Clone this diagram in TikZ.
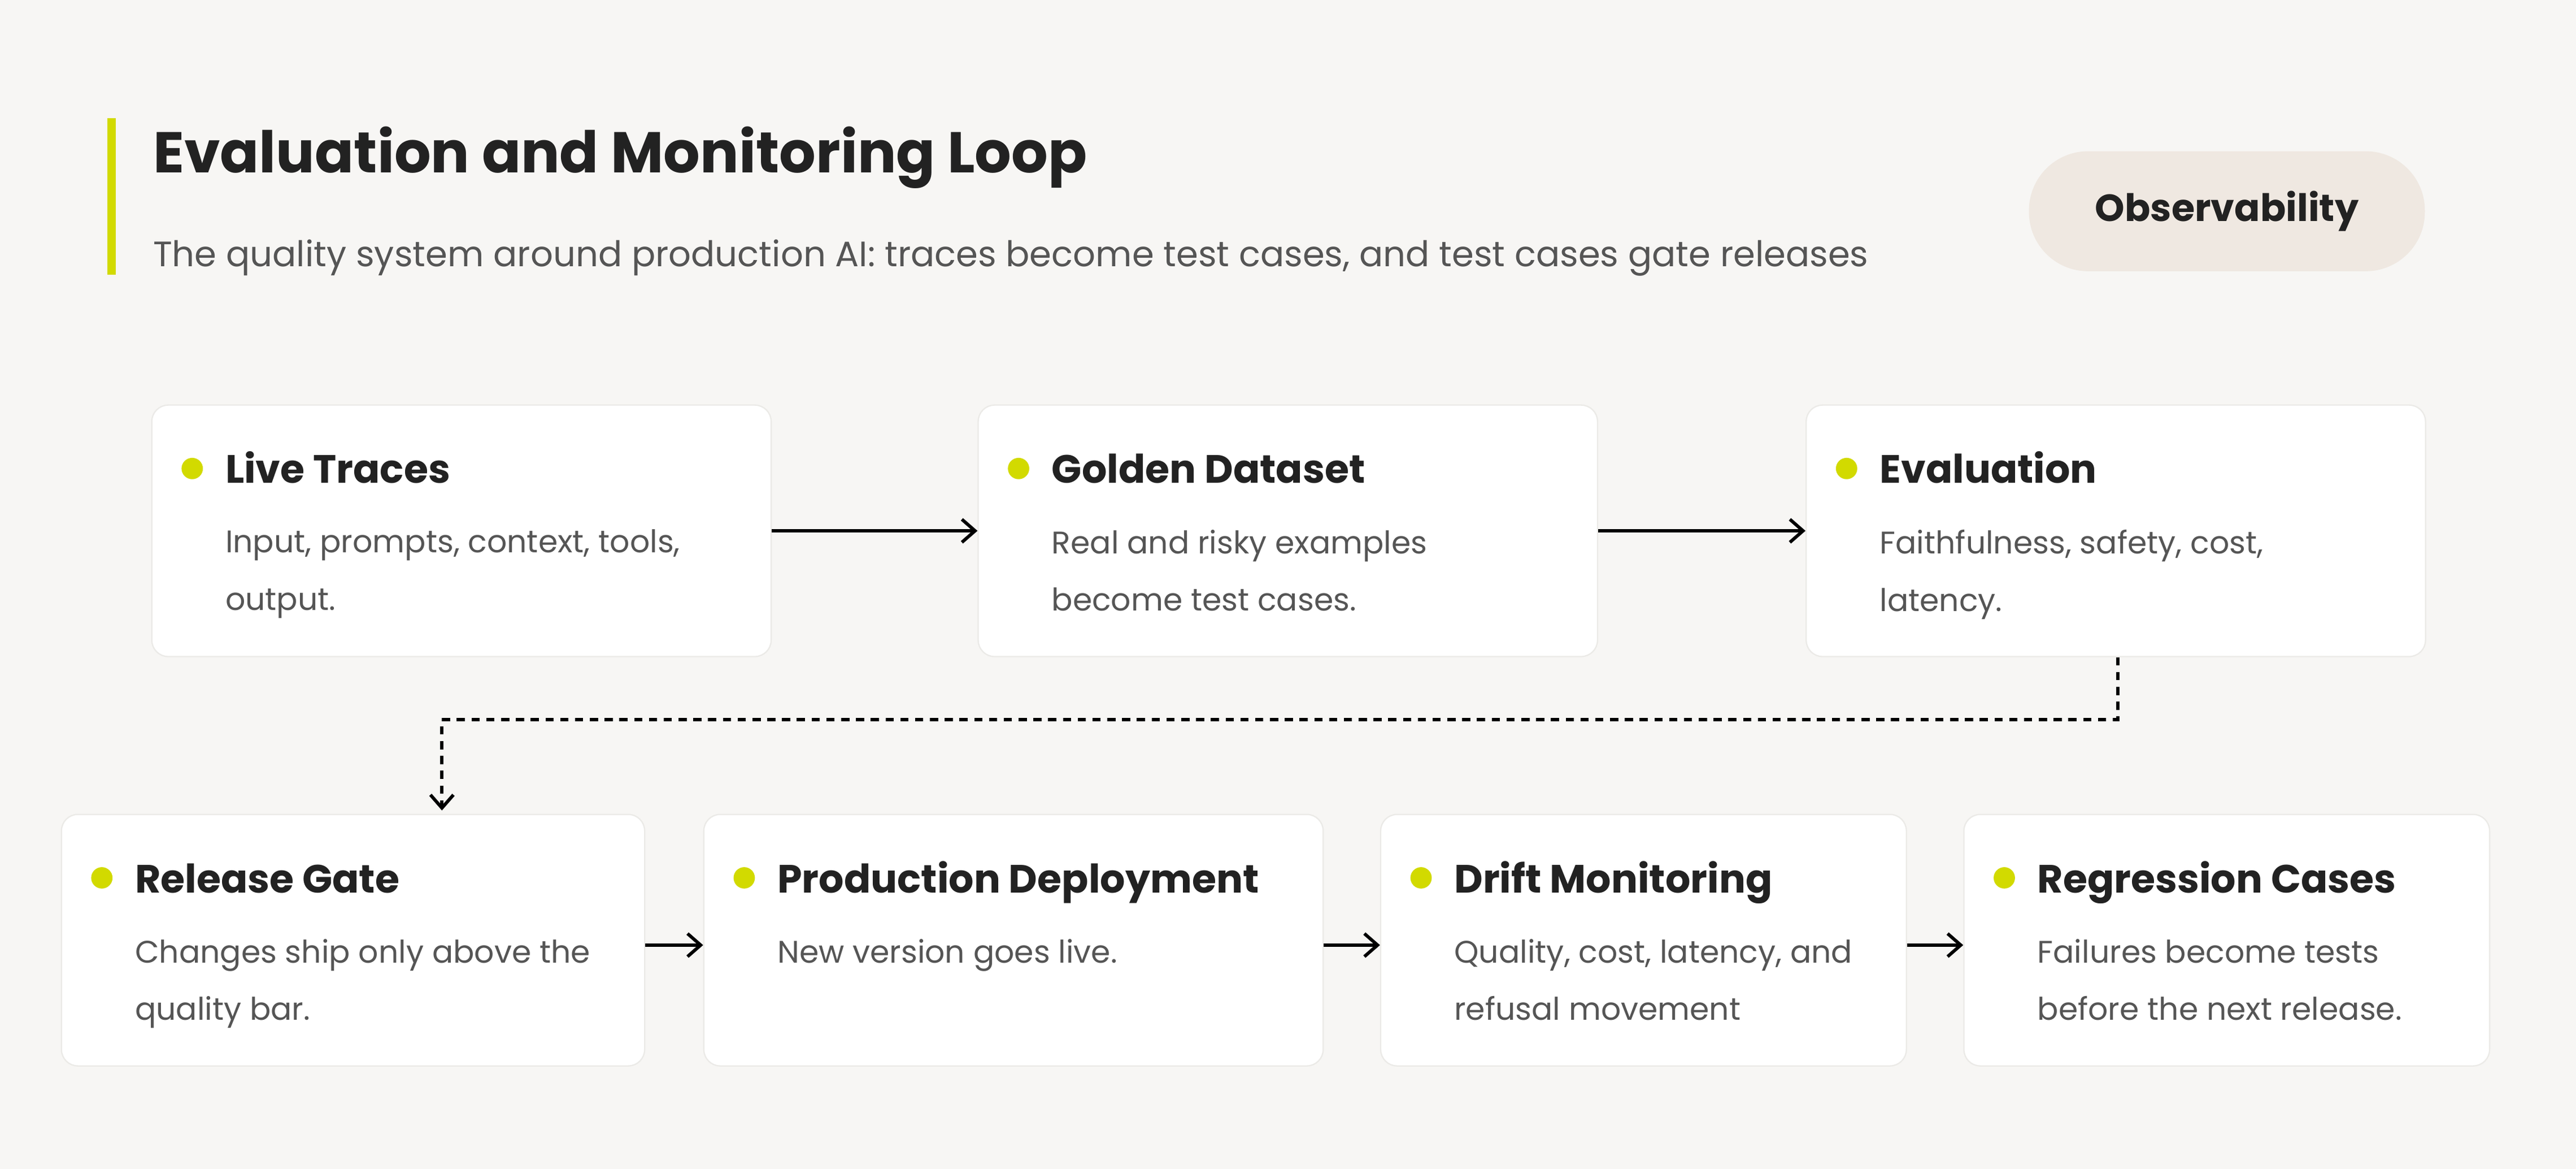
\documentclass[tikz,border=0pt]{standalone}
\usepackage{fontspec}
\setmainfont{Poppins}
\usetikzlibrary{positioning,calc,arrows.meta}
\definecolor{bgc}{HTML}{F7F6F4}
\definecolor{lime}{HTML}{D2DA00}
\definecolor{pill}{HTML}{EFE8E1}
\definecolor{ink}{HTML}{222222}
\definecolor{txt}{HTML}{555555}
\definecolor{edge}{HTML}{EBEAE7}
\tikzset{
  card/.style = {draw=edge, line width=0.8pt, fill=white, rounded corners=10pt,
    anchor=north west, inner sep=0pt, minimum height=153pt},
  head/.style = {anchor=base west, inner sep=0pt, text=ink,
    font=\fontsize{24}{30}\selectfont\bfseries},
  desc/.style = {anchor=north west, inner sep=0pt, text=txt, align=left,
    font=\fontsize{19}{35}\selectfont},
  flow/.style = {-{Straight Barb[length=8pt,width=14pt]}, line width=2pt, draw=black},
}
\newcommand{\card}[5]{% name, x, y, width, title / text
  \node[card, minimum width=#4] (#1) at (#2,#3) {};
  \fill[lime] ($(#1.north west)+(25,39)$) circle (6.5pt);
  \node[head] (#1-t) at ($(#1.north west)+(45,48)$) {#5};
}
\begin{document}
\begin{tikzpicture}[x=1pt,y=-1pt]
\useasboundingbox (0,0) rectangle (1568,711);
\fill[bgc] (0,0) rectangle (1568,711);
% heading
\draw[lime, line width=5pt] (68,72) -- (68,167);
\node[anchor=base west, inner sep=0pt, text=ink,
  font=\fontsize{35}{40}\selectfont\bfseries] (title) at (93,105)
  {Evaluation and Monitoring Loop};
\node[anchor=base west, inner sep=0pt, text=txt,
  font=\fontsize{21.5}{26}\selectfont] (sub) at (93,162)
  {The quality system around production AI: traces become test cases, and test cases gate releases};
\node[fill=pill, rounded corners=36pt, minimum width=241pt, minimum height=73pt,
  text=ink, font=\fontsize{23}{28}\selectfont\bfseries] (obs) at (1355.5,128.5)
  {Observability};
% top row
\card{live}{92}{246}{377pt}{Live Traces}
\card{gold}{595}{246}{377pt}{Golden Dataset}
\card{eval}{1099}{246}{377pt}{Evaluation}
\node[desc] at ($(live.north west)+(45,76)$) {Input, prompts, context, tools,\\output.};
\node[desc] at ($(gold.north west)+(45,76)$) {Real and risky examples\\become test cases.};
\node[desc] at ($(eval.north west)+(45,76)$) {Faithfulness, safety, cost,\\latency.};
% bottom row
\card{gate}{37}{495}{355pt}{Release Gate}
\card{prod}{428}{495}{377pt}{Production Deployment}
\card{drift}{840}{495}{320pt}{Drift Monitoring}
\card{regr}{1195}{495}{320pt}{Regression Cases}
\node[desc] at ($(gate.north west)+(45,76)$) {Changes ship only above the\\quality bar.};
\node[desc] at ($(prod.north west)+(45,76)$) {New version goes live.};
\node[desc] at ($(drift.north west)+(45,76)$) {Quality, cost, latency, and\\refusal movement};
\node[desc] at ($(regr.north west)+(45,76)$) {Failures become tests\\before the next release.};
% connectors
\draw[flow] (live.east) -- (gold.west);
\draw[flow] (gold.east) -- (eval.west);
\coordinate (d1) at ($(eval.south west)+(190,0)$);
\coordinate (d2) at ($(gate.north west)+(232,-2)$);
\draw[flow, dash pattern=on 5pt off 4pt] (d1) -- ($(d1)+(0,38)$) -| (d2);
\draw[flow] ($(gate.east)+(0,3)$) -- ($(prod.west)+(0,3)$);
\draw[flow] ($(prod.east)+(0,3)$) -- ($(drift.west)+(0,3)$);
\draw[flow] ($(drift.east)+(0,3)$) -- ($(regr.west)+(0,3)$);
\end{tikzpicture}
\end{document}
